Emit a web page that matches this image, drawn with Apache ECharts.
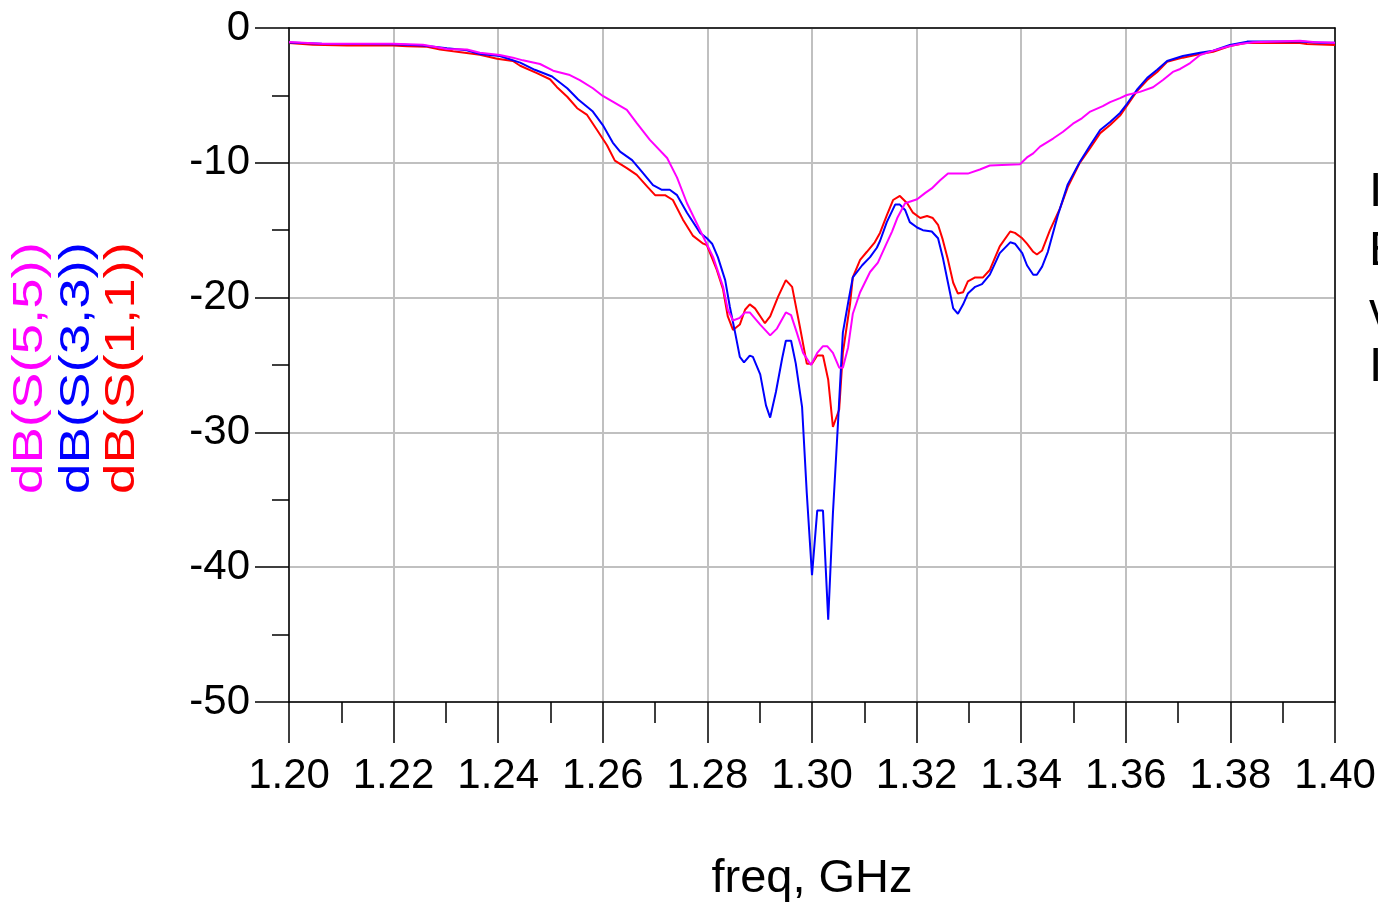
<!DOCTYPE html>
<html>
<head>
<meta charset="utf-8">
<script src="https://cdn.jsdelivr.net/npm/echarts@6/dist/echarts.min.js"></script>
<style>
  html, body { margin: 0; padding: 0; background: #fff; }
  #chart { width: 1378px; height: 904px; }
</style>
</head>
<body>
<div id="chart"></div>
<script>
// tick labels
const xTicks = ['1.20', '1.22', '1.24', '1.26', '1.28', '1.30', '1.32', '1.34', '1.36', '1.38', '1.40']
const yTicks = [0, -10, -20, -30, -40, -50]
const traceNames = ['dB(S(5,5))', 'dB(S(3,3))', 'dB(S(1,1))']

// [freq GHz, dB]
const s11 = [
  [1.2000, -1.11], [1.2046, -1.24], [1.2111, -1.30], [1.2199, -1.30], [1.2226, -1.36], [1.2264, -1.40],
  [1.2289, -1.60], [1.2314, -1.73], [1.2365, -1.98], [1.2398, -2.28], [1.2428, -2.45], [1.2442, -2.80],
  [1.2474, -3.35], [1.2499, -3.80], [1.2512, -4.37], [1.2532, -5.10], [1.2551, -5.95], [1.2570, -6.45],
  [1.2589, -7.57], [1.2608, -8.70], [1.2623, -9.84], [1.2646, -10.4], [1.2665, -10.9], [1.2685, -11.77],
  [1.2700, -12.4], [1.2719, -12.4], [1.2734, -12.76], [1.2753, -14.2], [1.2772, -15.4], [1.2792, -16.0],
  [1.2799, -16.1], [1.2818, -17.95], [1.2830, -19.4], [1.2839, -21.4], [1.2849, -22.4], [1.2862, -22.0],
  [1.2872, -20.9], [1.2881, -20.5], [1.2891, -20.8], [1.2910, -21.9], [1.2920, -21.4], [1.2935, -19.95],
  [1.2950, -18.7], [1.2962, -19.2], [1.2977, -22.2], [1.2990, -24.9], [1.3000, -24.9], [1.3010, -24.3],
  [1.3021, -24.3], [1.3031, -26.1], [1.3040, -29.6], [1.3052, -28.3], [1.3059, -24.1], [1.3073, -20.4],
  [1.3078, -18.5], [1.3092, -17.2], [1.3105, -16.6], [1.3120, -15.9], [1.3130, -15.2], [1.3143, -13.9],
  [1.3155, -12.76], [1.3168, -12.46], [1.3182, -13.0], [1.3193, -13.7], [1.3207, -14.1], [1.3220, -13.95],
  [1.3231, -14.1], [1.3241, -14.6], [1.3250, -15.7], [1.3260, -17.2], [1.3270, -18.9], [1.3279, -19.7],
  [1.3289, -19.6], [1.3298, -18.8], [1.3312, -18.5], [1.3327, -18.5], [1.3340, -17.95], [1.3359, -16.2],
  [1.3379, -15.1], [1.3388, -15.2], [1.3402, -15.6], [1.3411, -16.0], [1.3423, -16.6], [1.3430, -16.8],
  [1.3440, -16.5], [1.3455, -15.0], [1.3474, -13.4], [1.3489, -11.8], [1.3512, -10.0], [1.3532, -8.9],
  [1.3551, -7.8], [1.3570, -7.2], [1.3589, -6.5], [1.3621, -4.7], [1.3641, -3.86], [1.3660, -3.26],
  [1.3679, -2.5], [1.3709, -2.2], [1.3742, -1.93], [1.3767, -1.76], [1.3799, -1.34], [1.3832, -1.09],
  [1.3933, -1.11], [1.3946, -1.19], [1.4000, -1.26]
]

const s33 = [
  [1.2000, -1.08], [1.2063, -1.16], [1.2199, -1.20], [1.2256, -1.30], [1.2302, -1.50], [1.2340, -1.65],
  [1.2365, -1.93], [1.2403, -2.08], [1.2442, -2.57], [1.2470, -3.10], [1.2503, -3.60], [1.2532, -4.47],
  [1.2553, -5.30], [1.2581, -6.20], [1.2600, -7.20], [1.2619, -8.50], [1.2633, -9.17], [1.2656, -9.80],
  [1.2677, -10.77], [1.2696, -11.65], [1.2713, -12.0], [1.2728, -12.0], [1.2742, -12.4], [1.2761, -13.7],
  [1.2786, -15.2], [1.2799, -15.6], [1.2809, -16.0], [1.2820, -17.0], [1.2834, -18.7], [1.2843, -20.7],
  [1.2853, -22.6], [1.2862, -24.4], [1.2870, -24.8], [1.2881, -24.3], [1.2887, -24.4], [1.2901, -25.7],
  [1.2912, -28.0], [1.2920, -28.9], [1.2931, -27.0], [1.2943, -24.5], [1.2950, -23.2], [1.2960, -23.2],
  [1.2969, -24.9], [1.2981, -28.1], [1.2990, -34.5], [1.3000, -40.6], [1.3010, -35.8], [1.3021, -35.8],
  [1.3031, -43.9], [1.3040, -36.0], [1.3050, -29.1], [1.3059, -22.6], [1.3069, -20.4], [1.3078, -18.5],
  [1.3096, -17.6], [1.3111, -17.0], [1.3124, -16.3], [1.3130, -15.8], [1.3143, -14.4], [1.3159, -13.1],
  [1.3168, -13.1], [1.3178, -13.5], [1.3187, -14.4], [1.3201, -14.8], [1.3212, -15.0], [1.3229, -15.1],
  [1.3241, -15.6], [1.3250, -17.0], [1.3260, -18.9], [1.3270, -20.8], [1.3279, -21.2], [1.3289, -20.5],
  [1.3298, -19.7], [1.3312, -19.2], [1.3325, -19.0], [1.3340, -18.3], [1.3359, -16.7], [1.3379, -15.9],
  [1.3388, -16.0], [1.3402, -16.7], [1.3411, -17.6], [1.3423, -18.3], [1.3430, -18.3], [1.3440, -17.7],
  [1.3451, -16.6], [1.3470, -13.9], [1.3489, -11.6], [1.3512, -9.94], [1.3532, -8.7], [1.3551, -7.57],
  [1.3570, -6.97], [1.3589, -6.3], [1.3602, -5.64], [1.3621, -4.6], [1.3641, -3.7], [1.3660, -3.1],
  [1.3679, -2.45], [1.3709, -2.08], [1.3742, -1.83], [1.3767, -1.68], [1.3799, -1.26], [1.3832, -1.01],
  [1.3933, -1.01], [1.3971, -1.10], [1.4000, -1.10]
]

const s55 = [
  [1.2000, -1.04], [1.2063, -1.16], [1.2199, -1.16], [1.2256, -1.24], [1.2302, -1.56], [1.2340, -1.60],
  [1.2365, -1.83], [1.2403, -2.0], [1.2428, -2.2], [1.2447, -2.4], [1.2480, -2.67], [1.2505, -3.17],
  [1.2537, -3.49], [1.2556, -3.86], [1.2581, -4.47], [1.2600, -5.04], [1.2619, -5.46], [1.2646, -6.08],
  [1.2665, -7.05], [1.2690, -8.3], [1.2723, -9.64], [1.2742, -11.1], [1.2761, -13.0], [1.2786, -15.0],
  [1.2811, -17.0], [1.2830, -19.2], [1.2839, -20.9], [1.2849, -21.7], [1.2862, -21.5], [1.2872, -21.1],
  [1.2881, -21.1], [1.2901, -22.0], [1.2920, -22.8], [1.2933, -22.3], [1.2950, -21.1], [1.2960, -21.3],
  [1.2971, -22.6], [1.2983, -24.1], [1.2998, -25.0], [1.3010, -24.1], [1.3021, -23.6], [1.3029, -23.6],
  [1.3040, -24.1], [1.3052, -25.2], [1.3059, -25.2], [1.3069, -23.7], [1.3078, -21.2], [1.3092, -19.6],
  [1.3111, -18.1], [1.3126, -17.4], [1.3140, -16.2], [1.3153, -15.1], [1.3163, -14.1], [1.3178, -13.0],
  [1.3201, -12.7], [1.3216, -12.25], [1.3229, -11.9], [1.3245, -11.3], [1.3260, -10.8], [1.3298, -10.8],
  [1.3321, -10.5], [1.3340, -10.2], [1.3398, -10.1], [1.3403, -9.9], [1.3411, -9.6], [1.3423, -9.3],
  [1.3436, -8.8], [1.3461, -8.2], [1.3480, -7.7], [1.3499, -7.1], [1.3516, -6.7], [1.3532, -6.2],
  [1.3556, -5.8], [1.3570, -5.5], [1.3589, -5.2], [1.3602, -4.97], [1.3627, -4.74], [1.3652, -4.4],
  [1.3671, -3.86], [1.3690, -3.26], [1.3704, -3.04], [1.3723, -2.6], [1.3742, -2.0], [1.3767, -1.68],
  [1.3799, -1.34], [1.3818, -1.19], [1.3843, -1.06], [1.3933, -0.94], [1.3958, -1.04], [1.4000, -1.09]
]

const FONT = '"Liberation Sans", Arial, sans-serif'
const colors = ['#ff00ff', '#0000ff', '#ff0000']

const chart = echarts.init(document.getElementById('chart'))

// vertical trace labels on the left, stretched along the text like the original
const labelX = [30, 77, 122]
const sideLabels = traceNames.map((name, i) => ({
  type: 'text',
  x: labelX[i],
  y: 368,
  rotation: Math.PI / 2,
  scaleX: 1.3,
  style: {
    text: name,
    font: '42px ' + FONT,
    fill: colors[i],
    align: 'center',
    verticalAlign: 'middle'
  }
}))

// clipped marker readout at the right edge
const edgeText = ['I', 'E', 'v', 'I'].map((t, i) => ({
  type: 'text',
  x: 1369,
  y: [193, 252, 313, 368][i],
  style: {
    text: t,
    font: '48px ' + FONT,
    fill: '#000',
    align: 'left',
    verticalAlign: 'middle'
  }
}))

const blackLine = { color: '#000', width: 1.5 }

// plain axes on top/right only to close the box in black
const frameX = {
  type: 'value', position: 'top', min: 1.2, max: 1.4,
  axisLine: { onZero: false, lineStyle: blackLine },
  axisTick: { show: false }, axisLabel: { show: false }, splitLine: { show: false }
}
const frameY = {
  type: 'value', position: 'right', min: -50, max: 0,
  axisLine: { onZero: false, lineStyle: blackLine },
  axisTick: { show: false }, axisLabel: { show: false }, splitLine: { show: false }
}

const option = {
  animation: false,
  backgroundColor: '#fff',
  grid: {
    left: 289,
    right: 43,
    top: 28,
    bottom: 202,
    containLabel: false,
    outerBoundsMode: 'none'
  },
  xAxis: [{
    type: 'value',
    position: 'bottom',
    min: 1.2,
    max: 1.4,
    interval: 0.02,
    name: 'freq, GHz',
    nameLocation: 'middle',
    nameGap: 154,
    nameTextStyle: { fontSize: 47, fontFamily: FONT, color: '#000' },
    axisLine: { onZero: false, lineStyle: blackLine },
    axisTick: { length: 41, lineStyle: blackLine },
    minorTick: { show: true, splitNumber: 2, length: 21, lineStyle: blackLine },
    splitLine: { show: true, lineStyle: { color: '#c0c0c0', width: 2 } },
    axisLabel: {
      margin: 53,
      fontSize: 42,
      fontFamily: FONT,
      color: '#000',
      formatter: v => xTicks.find(t => Math.abs(parseFloat(t) - v) < 1e-6) || ''
    }
  }, frameX],
  yAxis: [{
    type: 'value',
    position: 'left',
    min: -50,
    max: 0,
    interval: 10,
    axisLine: { onZero: false, lineStyle: blackLine },
    axisTick: { length: 34, lineStyle: blackLine },
    minorTick: { show: true, splitNumber: 2, length: 17, lineStyle: blackLine },
    splitLine: { show: true, lineStyle: { color: '#c0c0c0', width: 2 } },
    axisLabel: {
      margin: 39,
      fontSize: 42,
      fontFamily: FONT,
      color: '#000',
      formatter: v => (yTicks.includes(Math.round(v)) ? String(Math.round(v)) : '')
    }
  }, frameY],
  graphic: sideLabels.concat(edgeText),
  series: [
    { name: traceNames[2], type: 'line', data: s11, showSymbol: false, lineStyle: { color: colors[2], width: 2 } },
    { name: traceNames[1], type: 'line', data: s33, showSymbol: false, lineStyle: { color: colors[1], width: 2 } },
    { name: traceNames[0], type: 'line', data: s55, showSymbol: false, lineStyle: { color: colors[0], width: 2 } }
  ]
}

chart.setOption(option)
window.addEventListener('resize', () => chart.resize())
</script>
</body>
</html>
